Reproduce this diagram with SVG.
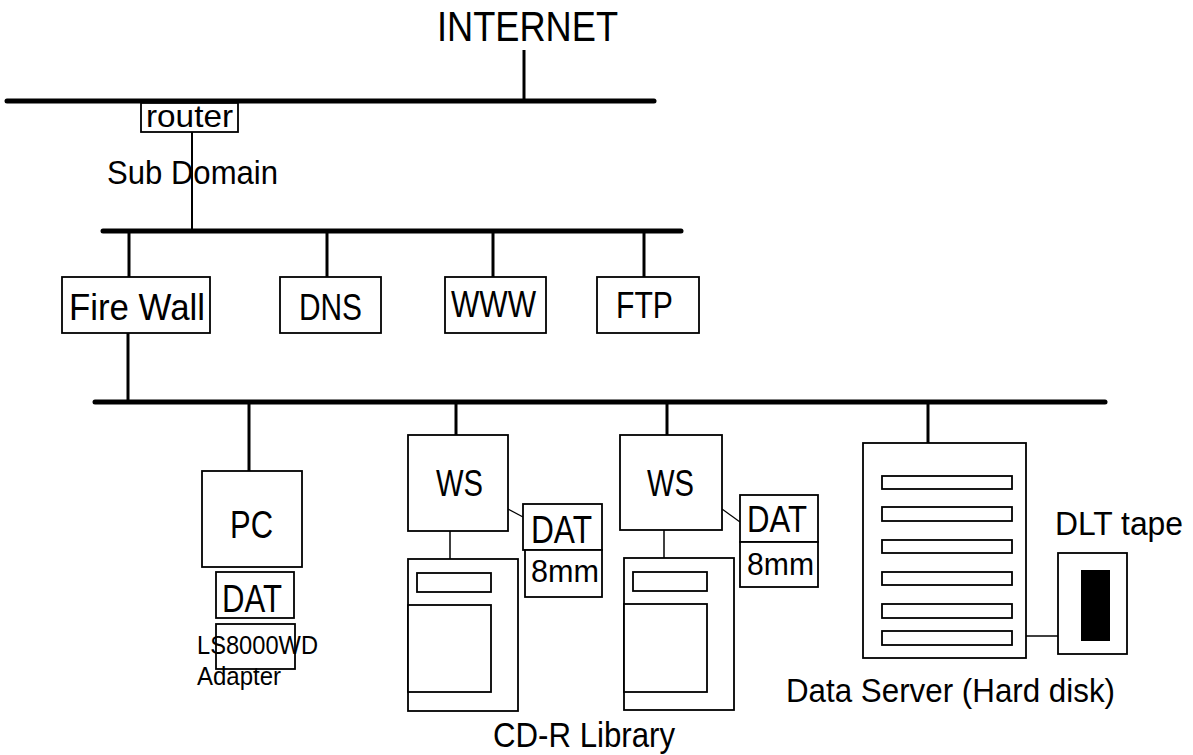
<svg xmlns="http://www.w3.org/2000/svg" width="1193" height="755" viewBox="0 0 1193 755">
<style>
text{font-family:"Liberation Sans",Arial,sans-serif;fill:#000}
.bus{stroke:#000;stroke-width:5;stroke-linecap:round;fill:none}
.drop{stroke:#000;stroke-width:3;fill:none}
.thin{stroke:#000;stroke-width:1.5;fill:none}
.box{fill:#fff;stroke:#000;stroke-width:1.8}
</style>
<rect width="1193" height="755" fill="#fff"/>
<g id="connectors">
<line class="bus" x1="7" y1="101" x2="654" y2="101"/>
<line class="drop" x1="524" y1="50" x2="524" y2="101"/>
<line class="thin" x1="192" y1="132" x2="192" y2="231" style="stroke-width:2"/>
<line class="bus" x1="103" y1="231" x2="681" y2="231"/>
<line class="drop" x1="129" y1="231" x2="129" y2="277"/>
<line class="drop" x1="327" y1="231" x2="327" y2="277"/>
<line class="drop" x1="493" y1="231" x2="493" y2="277"/>
<line class="drop" x1="644" y1="231" x2="644" y2="277"/>
<line class="drop" x1="128" y1="333" x2="128" y2="402"/>
<line class="bus" x1="95" y1="402" x2="1105" y2="402"/>
<line class="drop" x1="249" y1="402" x2="249" y2="471"/>
<line class="drop" x1="456" y1="402" x2="456" y2="435"/>
<line class="drop" x1="667" y1="402" x2="667" y2="435"/>
<line class="drop" x1="928" y1="402" x2="928" y2="443"/>
<line class="thin" x1="450" y1="531" x2="450" y2="559"/>
<line class="thin" x1="664" y1="530" x2="664" y2="558"/>
<line class="thin" x1="508" y1="509" x2="523" y2="517" style="stroke-width:1.2"/>
<line class="thin" x1="722" y1="509" x2="740" y2="522" style="stroke-width:1.2"/>
<line class="thin" x1="1026" y1="636" x2="1058" y2="636"/>
</g>
<g id="internet">
<text x="437" y="41" font-size="42" textLength="181" lengthAdjust="spacingAndGlyphs">INTERNET</text>
</g>
<g id="router">
<rect class="box" x="141" y="103" width="97" height="29"/>
<text x="146" y="127" font-size="32" textLength="87" lengthAdjust="spacingAndGlyphs">router</text>
</g>
<g id="subdomain">
<text x="107" y="184" font-size="34" textLength="171" lengthAdjust="spacingAndGlyphs">Sub Domain</text>
</g>
<g id="firewall">
<rect class="box" x="62" y="277" width="148" height="56"/>
<text x="69" y="320" font-size="36" textLength="136" lengthAdjust="spacingAndGlyphs">Fire Wall</text>
</g>
<g id="dns">
<rect class="box" x="280" y="277" width="101" height="56"/>
<text x="299" y="320" font-size="36" textLength="63" lengthAdjust="spacingAndGlyphs">DNS</text>
</g>
<g id="www">
<rect class="box" x="445" y="277" width="101" height="56"/>
<text x="451" y="317" font-size="36" textLength="85" lengthAdjust="spacingAndGlyphs">WWW</text>
</g>
<g id="ftp">
<rect class="box" x="597" y="277" width="102" height="56"/>
<text x="616" y="318" font-size="36" textLength="57" lengthAdjust="spacingAndGlyphs">FTP</text>
</g>
<g id="pc">
<rect class="box" x="202" y="471" width="100" height="96"/>
<text x="230" y="538" font-size="38" textLength="43" lengthAdjust="spacingAndGlyphs">PC</text>
</g>
<g id="pc-dat">
<rect class="box" x="216" y="572" width="78" height="46"/>
<text x="222" y="612" font-size="38" textLength="60" lengthAdjust="spacingAndGlyphs">DAT</text>
</g>
<g id="ls8000wd">
<rect class="box" x="216" y="624" width="79" height="45" style="fill:none"/>
<text x="197" y="654" font-size="25" textLength="121" lengthAdjust="spacingAndGlyphs">LS8000WD</text>
<text x="197" y="685" font-size="25" textLength="84" lengthAdjust="spacingAndGlyphs">Adapter</text>
</g>
<g id="ws1">
<rect class="box" x="408" y="435" width="100" height="96"/>
<text x="436" y="496" font-size="36" textLength="47" lengthAdjust="spacingAndGlyphs">WS</text>
</g>
<g id="ws1-dat">
<rect class="box" x="523" y="504" width="79" height="46"/>
<text x="531" y="543" font-size="39" textLength="61" lengthAdjust="spacingAndGlyphs">DAT</text>
<rect class="box" x="525" y="550" width="77" height="47"/>
<text x="531" y="582" font-size="31" textLength="68" lengthAdjust="spacingAndGlyphs">8mm</text>
</g>
<g id="cdr1">
<rect class="box" x="408" y="559" width="110" height="152"/>
<rect class="box" x="417" y="573" width="74" height="19"/>
<rect class="box" x="408" y="605" width="83" height="87"/>
</g>
<g id="ws2">
<rect class="box" x="620" y="435" width="102" height="95"/>
<text x="647" y="496" font-size="36" textLength="47" lengthAdjust="spacingAndGlyphs">WS</text>
</g>
<g id="ws2-dat">
<rect class="box" x="740" y="495" width="78" height="47"/>
<text x="747" y="532" font-size="36" textLength="60" lengthAdjust="spacingAndGlyphs">DAT</text>
<rect class="box" x="740" y="542" width="78" height="45"/>
<text x="747" y="575" font-size="31" textLength="67" lengthAdjust="spacingAndGlyphs">8mm</text>
</g>
<g id="cdr2">
<rect class="box" x="624" y="558" width="110" height="152"/>
<rect class="box" x="633" y="572" width="74" height="19"/>
<rect class="box" x="624" y="604" width="83" height="88"/>
</g>
<g id="cdr-label">
<text x="493" y="747" font-size="35" textLength="182" lengthAdjust="spacingAndGlyphs">CD-R Library</text>
</g>
<g id="dataserver">
<rect class="box" x="863" y="443" width="163" height="215"/>
<rect class="box" x="882" y="476" width="130" height="13"/>
<rect class="box" x="882" y="507" width="130" height="14"/>
<rect class="box" x="882" y="540" width="130" height="13"/>
<rect class="box" x="882" y="572" width="130" height="13"/>
<rect class="box" x="882" y="604" width="130" height="14"/>
<rect class="box" x="882" y="631" width="130" height="14"/>
<text x="786" y="702" font-size="34" textLength="329" lengthAdjust="spacingAndGlyphs">Data Server (Hard disk)</text>
</g>
<g id="dlt">
<text x="1055" y="535" font-size="34" textLength="128" lengthAdjust="spacingAndGlyphs">DLT tape</text>
<rect class="box" x="1058" y="553" width="69" height="101"/>
<rect x="1081" y="570" width="29" height="71" fill="#000"/>
</g>
</svg>
